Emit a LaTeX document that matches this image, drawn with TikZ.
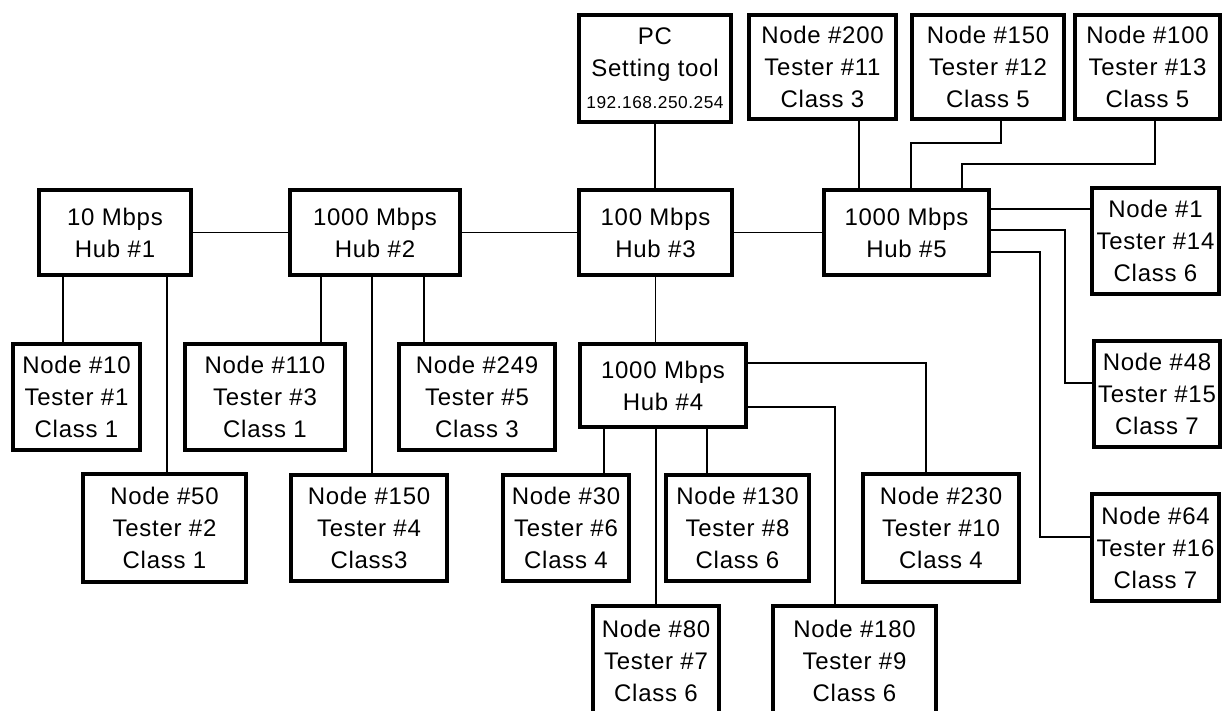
\documentclass[tikz,border=0pt]{standalone}
\usepackage{fontspec}
\setmainfont{Liberation Sans}[LetterSpace=3]
\usetikzlibrary{positioning}

\begin{document}
\begin{tikzpicture}[x=1pt,y=-1pt,
  box/.style={draw=black,line width=3.5pt,fill=white,align=center,inner sep=0pt,font=\fontsize{24}{32}\selectfont},
  link/.style={draw=black,line width=1.4pt}]
\useasboundingbox (0,0) rectangle (1226,711);
% hubs
\node[box,minimum width=152pt,minimum height=85pt] (hub1) at (115,232.5) {10 Mbps\\Hub \#1};
\node[box,minimum width=170pt,minimum height=85pt] (hub2) at (375,232.5) {1000 Mbps\\Hub \#2};
\node[box,minimum width=153pt,minimum height=85pt] (hub3) at (655.5,232.5) {100 Mbps\\Hub \#3};
\node[box,minimum width=166pt,minimum height=83pt] (hub4) at (663,385.5) {1000 Mbps\\Hub \#4};
\node[box,minimum width=165pt,minimum height=85pt] (hub5) at (906.5,232.5) {1000 Mbps\\Hub \#5};
\node[box,minimum width=152pt,minimum height=107pt] (pc) at (655,68.5) {PC\\Setting tool\\{\fontsize{17.3}{32}\selectfont 192.168.250.254}};
% testers
\node[box,minimum width=127pt,minimum height=106pt] (t1) at (76.5,397) {Node \#10\\Tester \#1\\Class 1};
\node[box,minimum width=163pt,minimum height=108pt] (t2) at (164.5,528) {Node \#50\\Tester \#2\\Class 1};
\node[box,minimum width=160pt,minimum height=106pt] (t3) at (265,397) {Node \#110\\Tester \#3\\Class 1};
\node[box,minimum width=156pt,minimum height=106pt] (t4) at (369,528) {Node \#150\\Tester \#4\\Class3};
\node[box,minimum width=156pt,minimum height=106pt] (t5) at (477,397) {Node \#249\\Tester \#5\\Class 3};
\node[box,minimum width=126pt,minimum height=106pt] (t6) at (566,528) {Node \#30\\Tester \#6\\Class 4};
\node[box,minimum width=126pt,minimum height=110pt] (t7) at (656,660.75) {Node \#80\\Tester \#7\\Class 6};
\node[box,minimum width=143pt,minimum height=106pt] (t8) at (737.5,528) {Node \#130\\Tester \#8\\Class 6};
\node[box,minimum width=163pt,minimum height=110pt] (t9) at (854.5,660.75) {Node \#180\\Tester \#9\\Class 6};
\node[box,minimum width=156pt,minimum height=108pt] (t10) at (941,528) {Node \#230\\Tester \#10\\Class 4};
\node[box,minimum width=147pt,minimum height=104pt] (t11) at (822.5,67) {Node \#200\\Tester \#11\\Class 3};
\node[box,minimum width=152pt,minimum height=104pt] (t12) at (988,67) {Node \#150\\Tester \#12\\Class 5};
\node[box,minimum width=145pt,minimum height=104pt] (t13) at (1147.5,67) {Node \#100\\Tester \#13\\Class 5};
\node[box,minimum width=127pt,minimum height=106pt] (t14) at (1155.5,241) {Node \#1\\Tester \#14\\Class 6};
\node[box,minimum width=126pt,minimum height=106pt] (t15) at (1157,394) {Node \#48\\Tester \#15\\Class 7};
\node[box,minimum width=127pt,minimum height=107pt] (t16) at (1155.5,547.5) {Node \#64\\Tester \#16\\Class 7};
% tap points
\coordinate (x1) at (63,0);
\coordinate (x2) at (167,0);
\coordinate (x3) at (321,0);
\coordinate (x4) at (372,0);
\coordinate (x5) at (424,0);
\coordinate (x6) at (604,0);
\coordinate (x7) at (656,0);
\coordinate (x8) at (707,0);
\coordinate (k9) at (835,407);
\coordinate (k10) at (926,363);
\coordinate (x11) at (859,0);
\coordinate (k12a) at (1001,143);
\coordinate (k12b) at (911,143);
\coordinate (k13a) at (1155,164);
\coordinate (k13b) at (962,164);
\coordinate (y14) at (0,209);
\coordinate (k15a) at (1065,230);
\coordinate (k15b) at (1065,383);
\coordinate (k16a) at (1040,252);
\coordinate (k16b) at (1040,537);
% backbone
\draw[link] (hub1.east) -- (hub2.west);
\draw[link] (hub2.east) -- (hub3.west);
\draw[link] (hub3.east) -- (hub5.west);
\draw[link] (pc.south) -- (pc.south |- hub3.north);
\draw[link] (hub3.south) -- (hub3.south |- hub4.north);
% hub 1 and 2
\draw[link] (hub1.south -| x1) -- (t1.north -| x1);
\draw[link] (hub1.south -| x2) -- (t2.north -| x2);
\draw[link] (hub2.south -| x3) -- (t3.north -| x3);
\draw[link] (hub2.south -| x4) -- (t4.north -| x4);
\draw[link] (hub2.south -| x5) -- (t5.north -| x5);
% hub 4
\draw[link] (hub4.south -| x6) -- (t6.north -| x6);
\draw[link] (hub4.south -| x7) -- (t7.north -| x7);
\draw[link] (hub4.south -| x8) -- (t8.north -| x8);
\draw[link] (hub4.east |- k9) -- (k9) -- (t9.north -| k9);
\draw[link] (hub4.east |- k10) -- (k10) -- (t10.north -| k10);
% hub 5
\draw[link] (t11.south -| x11) -- (hub5.north -| x11);
\draw[link] (t12.south -| k12a) -- (k12a) -- (k12b) -- (hub5.north -| k12b);
\draw[link] (t13.south -| k13a) -- (k13a) -- (k13b) -- (hub5.north -| k13b);
\draw[link] (hub5.east |- y14) -- (t14.west |- y14);
\draw[link] (hub5.east |- k15a) -- (k15a) -- (k15b) -- (t15.west |- k15b);
\draw[link] (hub5.east |- k16a) -- (k16a) -- (k16b) -- (t16.west |- k16b);
\end{tikzpicture}
\end{document}
